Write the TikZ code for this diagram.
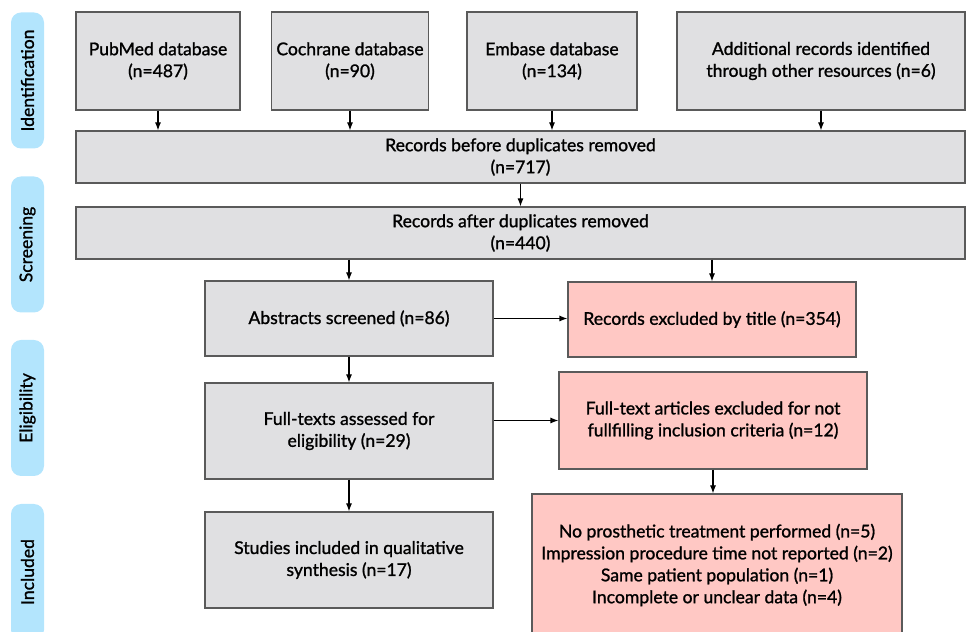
\documentclass[tikz,border=0pt]{standalone}
\usepackage{fontspec}
\setmainfont{Lato}[AutoFakeBold=1.2]
\usetikzlibrary{arrows.meta}
\usepackage{xcolor}
\definecolor{boxgray}{RGB}{224,224,226}
\definecolor{boxpink}{RGB}{255,200,196}
\definecolor{tabblue}{RGB}{179,229,253}
\definecolor{edgegray}{RGB}{90,90,90}

\begin{document}
\begin{tikzpicture}[
font=\fontsize{12.5}{15.6}\selectfont\bfseries,
box/.style={draw=edgegray,
line width=0.8pt,
fill=boxgray,
rectangle,
align=center},
exclbox/.style={box, fill=boxpink},
phase/.style={fill=tabblue,
rounded corners=0.25cm,
rotate=90,
minimum width=3.4cm,
minimum height=0.825cm},
arrow/.style={-{Latex[length=2mm,width=1.5mm]}, line width=0.8pt}
]

\useasboundingbox (0,0) rectangle (24.15,-15.8);
\clip (0,0) rectangle (24.15,-15.8);

% phases
\node[phase] (ident) at (0.6875,-2.0125) {Identification};
\node[phase] (screen) at (0.6875,-6.1125) {Screening};
\node[phase] (elig) at (0.6875,-10.2) {Eligibility};
\node[phase] (incl) at (0.6875,-14.3) {Included};

% sources
\node[box, minimum width=4.1cm, minimum height=2.45cm] (pubmed) at (3.95,-1.525) {PubMed database\\(n=487)};
\node[box, minimum width=3.9cm, minimum height=2.45cm] (cochrane) at (8.75,-1.525) {Cochrane database\\(n=90)};
\node[box, minimum width=4.25cm, minimum height=2.45cm] (embase) at (13.8,-1.525) {Embase database\\(n=134)};
\node[box, minimum width=7.2cm, minimum height=2.45cm] (additional) at (20.525,-1.525) {Additional records identified\\through other resources (n=6)};

\node[box, minimum width=22.225cm, minimum height=1.3cm] (before) at (13.0125,-3.925) {Records before duplicates removed\\(n=717)};
\node[box, minimum width=22.225cm, minimum height=1.3cm] (after) at (13.0125,-5.825) {Records after duplicates removed\\(n=440)};

\node[box, minimum width=7.2cm, minimum height=1.875cm] (abstracts) at (8.725,-7.9625) {Abstracts screened (n=86)};
\node[exclbox, minimum width=7.2cm, minimum height=1.875cm] (excltitle) at (17.8,-7.9875) {Records excluded by title (n=354)};
\node[box, minimum width=7.2cm, minimum height=2.4cm] (fulltext) at (8.725,-10.775) {Full-texts assessed for\\eligibility (n=29)};
\node[exclbox, minimum width=7.7cm, minimum height=2.425cm] (fullexcl) at (17.825,-10.5125) {Full-text articles excluded for not\\fullfilling inclusion criteria (n=12)};
\node[box, minimum width=7.2cm, minimum height=2.4cm] (studies) at (8.725,-14.0) {Studies included in qualitative\\synthesis (n=17)};
\node[exclbox, minimum width=9.25cm, minimum height=3.55cm] (reasons) at (17.925,-14.125) {No prosthetic treatment performed (n=5)\\Impression procedure time not reported (n=2)\\Same patient population (n=1)\\Incomplete or unclear data (n=4)};

\draw[arrow] (pubmed) -- (pubmed |- before.north);
\draw[arrow] (cochrane) -- (cochrane |- before.north);
\draw[arrow] (embase) -- (embase |- before.north);
\draw[arrow] (additional) -- (additional |- before.north);
\draw[arrow] (before) -- (after);
\draw[arrow] (after.south -| abstracts) -- (abstracts);
\draw[arrow] (after.south -| excltitle) -- (excltitle);
\draw[arrow] (abstracts.east) -- (abstracts.east -| excltitle.west);
\draw[arrow] (abstracts) -- (fulltext);
\draw[arrow] (fullexcl.west -| fulltext.east) -- (fullexcl.west);
\draw[arrow] (fulltext) -- (studies);
\draw[arrow] (fullexcl.south) -- (fullexcl.south |- reasons.north);

\end{tikzpicture}
\end{document}
